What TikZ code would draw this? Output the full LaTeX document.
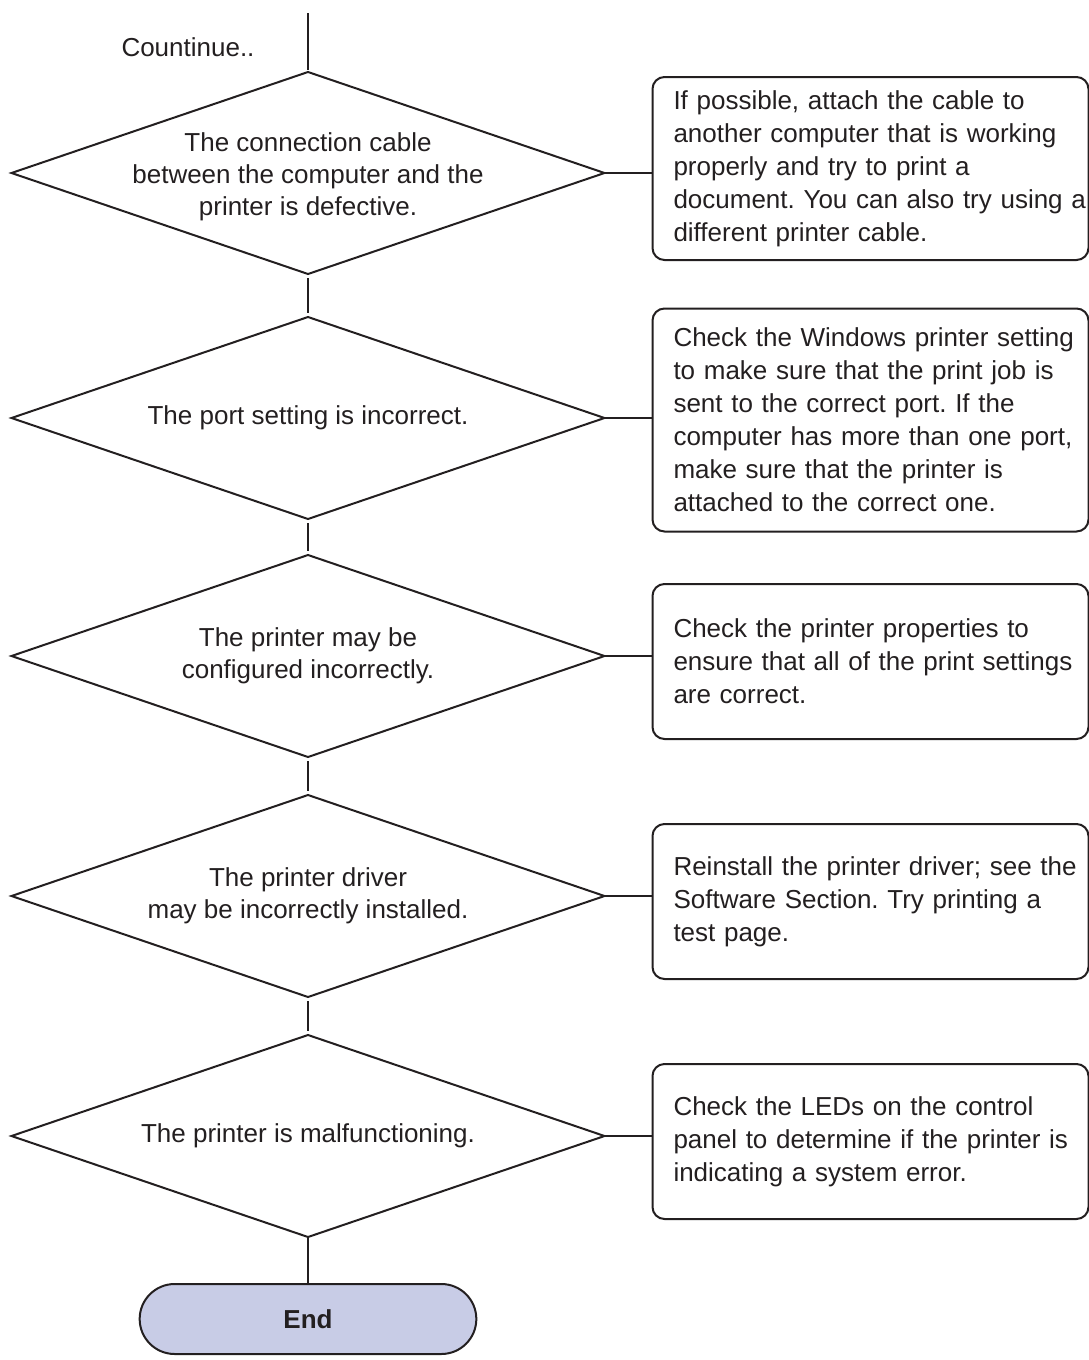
\documentclass[tikz,border=0pt]{standalone}
\usepackage{fontspec}
\setmainfont{Liberation Sans}
\usetikzlibrary{shapes.geometric, shapes.misc, positioning}
\definecolor{inkgray}{HTML}{231F20}
\definecolor{endblue}{HTML}{C8CCE6}
\hfuzz=30pt
\frenchspacing

\begin{document}
\begin{tikzpicture}[
  dec/.style={diamond, draw=inkgray, line width=1pt, inner sep=0pt, outer sep=0pt,
              minimum width=296.5pt, minimum height=101pt},
  txt/.style={align=center, text=inkgray, inner sep=0pt,
              font=\fontsize{13pt}{16pt}\selectfont},
  sol/.style={rectangle, rounded corners=6pt, draw=inkgray, line width=1pt,
              outer sep=0pt, text width=216pt, inner xsep=1pt, inner ysep=0pt,
              align=left, text=inkgray, font=\fontsize{13pt}{16.5pt}\selectfont,
              execute at begin node={\leftskip=9.5pt\hyphenpenalty=10000}},
  term/.style={rounded rectangle, draw=inkgray, fill=endblue, line width=1pt,
               outer sep=0pt, minimum width=175pt, minimum height=35pt, text=inkgray,
               font=\fontsize{13pt}{15pt}\selectfont\bfseries},
  link/.style={draw=inkgray, line width=1pt},
  gap/.style={shorten <=2pt, shorten >=2pt},
]
  \useasboundingbox (0,0) rectangle (544pt,-680pt);

  %% Column of checks
  \coordinate (top) at (154pt,-6.5pt);
  \node[txt] (cont) at (94pt,-23.5pt) {Countinue..};

  \node[dec, label={[txt, yshift=-2pt]center:The connection cable\\between the computer and the\\printer is defective.}]
       (d1) at (154pt,-86.5pt) {};
  \node[dec, below=21.5pt of d1, label={[txt]center:The port setting is incorrect.}] (d2) {};
  \node[dec, below=18pt of d2, label={[txt]center:The printer may be\\configured incorrectly.}] (d3) {};
  \node[dec, below=19pt of d3, label={[txt]center:The printer driver\\may be incorrectly installed.}] (d4) {};
  \node[dec, below=19pt of d4, label={[txt]center:The printer is malfunctioning.}] (d5) {};
  \node[term, below=23.5pt of d5] (stop) {End};

  \draw[link] (top) -- ([yshift=1pt]d1.north);
  \draw[link,gap] (d1.south)--(d2.north);
  \draw[link,gap] (d2.south)--(d3.north);
  \draw[link,gap] (d3.south)--(d4.north);
  \draw[link,gap] (d4.south)--(d5.north);
  \draw[link] (d5.south)--(stop.north);

  %% Column of remedies
  \node[sol, minimum height=91.5pt, right=24pt of d1, yshift=2.25pt] (s1)
       {If possible, attach the cable to\\another computer that is working\\properly and try to print a\\document. You can also try using a\\different printer cable.};
  \node[sol, minimum height=111.5pt, right=24pt of d2, yshift=-1pt] (s2)
       {Check the Windows printer setting\\to make sure that the print job is\\sent to the correct port. If the\\computer has more than one port,\\make sure that the printer is\\attached to the correct one.};
  \node[sol, minimum height=77.5pt, right=24pt of d3, yshift=-2.75pt] (s3)
       {Check the printer properties to\\ensure that all of the print settings\\are correct.};
  \node[sol, minimum height=77.5pt, right=24pt of d4, yshift=-2.75pt] (s4)
       {Reinstall the printer driver; see the\\Software Section. Try printing a\\test page.};
  \node[sol, minimum height=77.5pt, right=24pt of d5, yshift=-2.75pt] (s5)
       {Check the LEDs on the control\\panel to determine if the printer is\\indicating a system error.};

  \draw[link] (d1.east) -- (d1.east -| s1.west);
  \draw[link] (d2.east) -- (d2.east -| s2.west);
  \draw[link] (d3.east) -- (d3.east -| s3.west);
  \draw[link] (d4.east) -- (d4.east -| s4.west);
  \draw[link] (d5.east) -- (d5.east -| s5.west);

\end{tikzpicture}
\end{document}
